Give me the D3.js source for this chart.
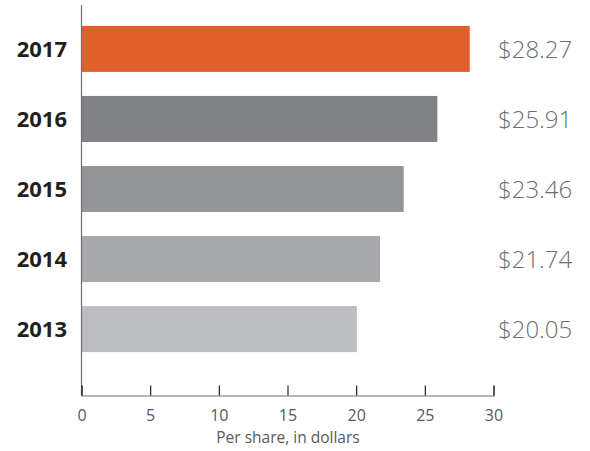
<!DOCTYPE html>
<html>
<head>
<meta charset="utf-8">
<script src="https://cdn.jsdelivr.net/npm/d3@7"></script>
<style>
  html, body { margin: 0; padding: 0; background: #ffffff; }
  svg { display: block; }
</style>
</head>
<body>
<svg id="chart" width="590" height="451"></svg>
<script>
// Book value per share, by year
const years = ["2017", "2016", "2015", "2014", "2013"];
const values = [28.27, 25.91, 23.46, 21.74, 20.05];
const barColors = ["#E05F2A", "#818285", "#939598", "#A7A9AC", "#BCBDC0"];
const xTicks = [0, 5, 10, 15, 20, 25, 30];
const axisTitle = "Per share, in dollars";

const svg = d3.select("#chart");
const font = "'Open Sans', 'Noto Sans', sans-serif";

const x = d3.scaleLinear().domain([0, 30]).range([81.5, 493.5]);
const y = d3.scaleBand().domain(years).range([14, 364]).paddingInner(0.343).paddingOuter(0.17);

// Bars
svg.append("g").selectAll("rect")
  .data(years)
  .join("rect")
  .attr("x", x(0))
  .attr("y", d => y(d))
  .attr("width", (d, i) => x(values[i]) - x(0))
  .attr("height", y.bandwidth())
  .attr("fill", (d, i) => barColors[i]);

// Year labels
svg.append("g").selectAll("text")
  .data(years)
  .join("text")
  .attr("x", 67)
  .attr("y", d => y(d) + y.bandwidth() / 2)
  .attr("dy", "0.36em")
  .attr("text-anchor", "end")
  .attr("font-family", font)
  .attr("font-weight", 700)
  .attr("font-size", 22)
  .attr("fill", "#231f20")
  .text(d => d);

// Value labels
svg.append("g").selectAll("text")
  .data(years)
  .join("text")
  .attr("x", 498)
  .attr("y", (d, i) => y(d) + y.bandwidth() / 2)
  .attr("dy", "0.36em")
  .attr("font-family", font)
  .attr("font-weight", 300)
  .attr("font-size", 24)
  .attr("fill", "#6d6e71")
  .text((d, i) => "$" + values[i].toFixed(2));

// Vertical axis line
svg.append("line")
  .attr("x1", x(0)).attr("x2", x(0))
  .attr("y1", 5).attr("y2", 395.5)
  .attr("stroke", "#6d6e71").attr("stroke-width", 1.2);

// Horizontal axis with upward ticks
const xAxis = d3.axisBottom(x).tickValues(xTicks).tickSize(-10).tickPadding(14).tickFormat(d3.format("d"));
const gx = svg.append("g")
  .attr("transform", "translate(0,395.5)")
  .call(xAxis);
gx.select(".domain").attr("stroke", "#6d6e71").attr("stroke-width", 1.2);
gx.selectAll(".tick line").attr("stroke", "#231f20").attr("stroke-width", 1.2);
gx.selectAll(".tick text")
  .attr("font-family", font)
  .attr("font-size", 16)
  .attr("fill", "#58595b");

// Axis title
svg.append("text")
  .attr("x", 288)
  .attr("y", 443)
  .attr("text-anchor", "middle")
  .attr("font-family", font)
  .attr("font-size", 15.5)
  .attr("fill", "#58595b")
  .text(axisTitle);
</script>
</body>
</html>
